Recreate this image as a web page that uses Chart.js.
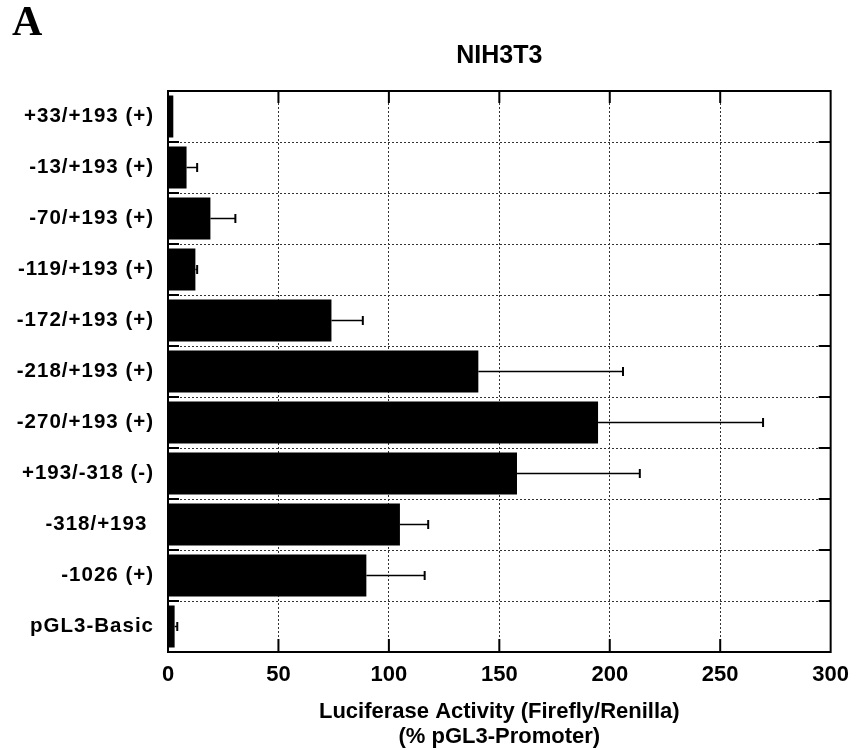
<!DOCTYPE html>
<html>
<head>
<meta charset="utf-8">
<script src="https://cdn.jsdelivr.net/npm/chart.js@4.4.1/dist/chart.umd.min.js"></script>
<style>
  body { margin: 0; background: #fff; }
</style>
</head>
<body>
<canvas id="chart1" width="859" height="750"></canvas>
<script>
// promoter deletion constructs, top to bottom
const constructs = ['+33/+193 (+)', '-13/+193 (+)', '-70/+193 (+)', '-119/+193 (+)', '-172/+193 (+)',
  '-218/+193 (+)', '-270/+193 (+)', '+193/-318 (-)', '-318/+193 ', '-1026 (+)', 'pGL3-Basic'];
// luciferase activity, % of pGL3-Promoter
const activity = [2.4, 8.4, 19.2, 12.4, 74, 140.5, 194.7, 158, 105, 89.8, 3];
// upper error (SEM)
const sem = [0, 4.8, 11.3, 0.8, 14.2, 65.5, 74.7, 55.6, 12.8, 26.4, 1.2];
const xMin = 0, xMax = 300, xStep = 50;

const FONT = "'Liberation Sans', Arial, Helvetica, sans-serif";
const ctx = document.getElementById('chart1').getContext('2d');

const dotted = { color: '#333', lineWidth: 1, drawTicks: false };
const dottedBorder = { display: false, dash: [2, 2] };

const decorations = {
  id: 'decorations',
  afterDatasetsDraw(chart) {
    const c = chart.ctx;
    const xs = chart.scales.x, ys = chart.scales.y;
    const a = chart.chartArea;
    const meta = chart.getDatasetMeta(0);
    c.save();
    c.strokeStyle = '#000';
    // error bars, upper side only
    meta.data.forEach((bar, i) => {
      if (!sem[i]) return;
      const x0 = xs.getPixelForValue(activity[i]);
      const x1 = xs.getPixelForValue(activity[i] + sem[i]);
      c.lineWidth = 1.5;
      c.beginPath(); c.moveTo(x0, bar.y); c.lineTo(x1, bar.y); c.stroke();
      c.lineWidth = 2;
      c.beginPath(); c.moveTo(x1, bar.y - 4.5); c.lineTo(x1, bar.y + 4.5); c.stroke();
    });
    // frame
    c.lineWidth = 2;
    c.strokeRect(a.left, a.top, a.right - a.left, a.bottom - a.top);
    // short inner ticks on the grid lines
    for (let i = 0; i < constructs.length - 1; i++) {
      const y = ys.getPixelForValue(i + 0.5);
      c.beginPath();
      c.moveTo(a.left, y); c.lineTo(a.left + 11, y);
      c.moveTo(a.right - 12, y); c.lineTo(a.right, y);
      c.stroke();
    }
    for (let v = xMin + xStep; v < xMax; v += xStep) {
      const x = xs.getPixelForValue(v);
      c.beginPath();
      c.moveTo(x, a.top); c.lineTo(x, a.top + 12);
      c.moveTo(x, a.bottom - 13); c.lineTo(x, a.bottom);
      c.stroke();
    }
    c.restore();
    // y labels draw after this point (ticks.z = 1), spaced out a little
    c.letterSpacing = '1px';
  },
  afterDraw(chart) {
    const c = chart.ctx;
    const a = chart.chartArea;
    c.letterSpacing = '0px';
    c.save();
    c.fillStyle = '#000';
    c.textBaseline = 'alphabetic';
    c.textAlign = 'center';
    c.font = 'bold 25px ' + FONT;
    c.fillText('NIH3T3', (a.left + a.right) / 2, 63);
    c.textAlign = 'left';
    c.font = "bold 42px 'Liberation Serif', 'Times New Roman', serif";
    c.fillText('A', 12, 35);
    c.restore();
  }
};

new Chart(ctx, {
  type: 'bar',
  data: {
    labels: constructs,
    datasets: [{
      data: activity,
      backgroundColor: '#000',
      borderWidth: 0,
      barPercentage: 0.82,
      categoryPercentage: 1
    }]
  },
  options: {
    indexAxis: 'y',
    responsive: false,
    animation: false,
    layout: { padding: { top: 91, right: 23, bottom: 0, left: 0 } },
    plugins: {
      legend: { display: false },
      tooltip: { enabled: false }
    },
    scales: {
      x: {
        type: 'linear',
        min: xMin,
        max: xMax,
        grid: dotted,
        border: dottedBorder,
        ticks: {
          stepSize: xStep,
          color: '#000',
          padding: 10,
          z: 0,
          font: { family: FONT, size: 22, weight: 'bold' }
        },
        title: {
          display: true,
          text: ['Luciferase Activity (Firefly/Renilla)', '(% pGL3-Promoter)'],
          color: '#000',
          padding: { top: 0, bottom: 0 },
          font: { family: FONT, size: 22, weight: 'bold', lineHeight: 1.15 }
        },
        afterFit(scale) { scale.height = 98; }
      },
      y: {
        grid: dotted,
        border: dottedBorder,
        ticks: {
          color: '#000',
          padding: 14,
          z: 1,
          font: { family: FONT, size: 20.5, weight: 'bold' }
        },
        afterFit(scale) { scale.width = 168; }
      }
    }
  },
  plugins: [decorations]
});
</script>
</body>
</html>
